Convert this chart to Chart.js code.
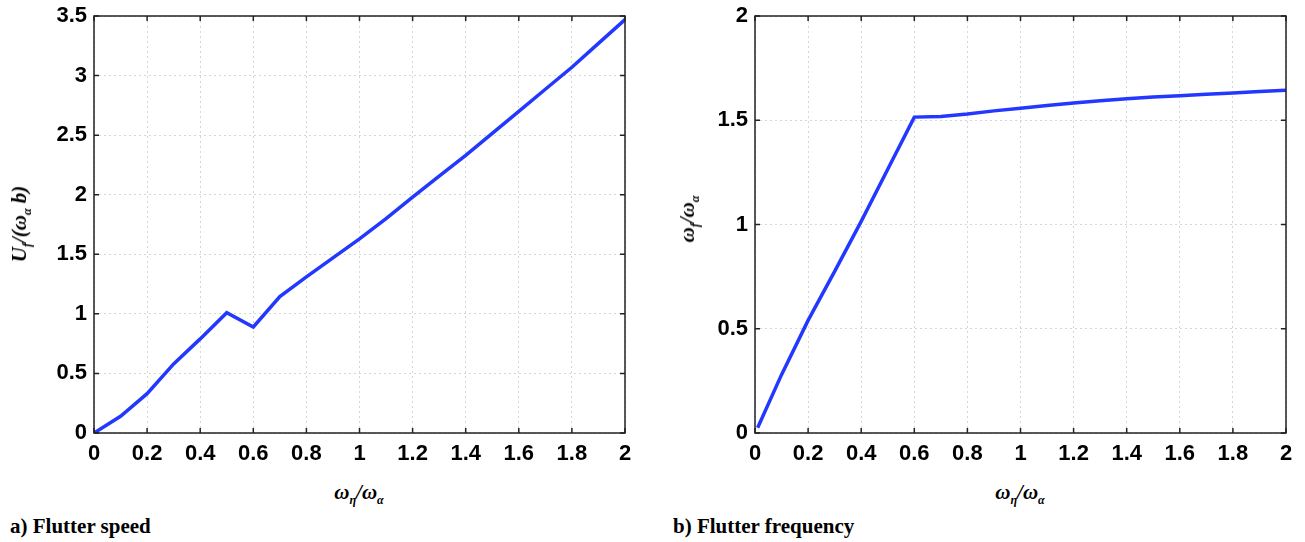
<!DOCTYPE html>
<html>
<head>
<meta charset="utf-8">
<script src="https://cdn.jsdelivr.net/npm/chart.js@4"></script>
<style>
    body { margin: 0; background: #fff; width: 1305px; height: 542px; position: relative; overflow: hidden; }
    .panel { position: absolute; top: 0; }
    .panel canvas { display: block; }
    .axis-title { position: absolute; font-family: "Liberation Serif", serif; font-style: italic; font-weight: bold; font-size: 21px; color: #000; white-space: nowrap; }
    .axis-title sub { font-size: 12px; vertical-align: -5px; }
    .ytitle { transform: translate(-50%, -50%) rotate(-90deg); }
    .xtitle { transform: translate(-50%, -50%); }
    .caption { position: absolute; font-family: "Liberation Serif", serif; font-weight: bold; font-size: 21px; color: #000; }
</style>
</head>
<body>
<div class="panel" style="left:0;width:640px;height:470px;"><canvas id="speed-chart" width="640" height="470"></canvas></div>
<div class="panel" style="left:660px;width:640px;height:470px;"><canvas id="freq-chart" width="640" height="470"></canvas></div>

<div class="axis-title ytitle" style="left:21px;top:224px;">U<sub>f</sub>/(ω<sub>α</sub> b)</div>
<div class="axis-title xtitle" style="left:359px;top:494px;">ω<sub>η</sub>/ω<sub>α</sub></div>
<div class="axis-title ytitle" style="left:689px;top:219px;">ω<sub>f</sub>/ω<sub>α</sub></div>
<div class="axis-title xtitle" style="left:1020px;top:494px;">ω<sub>η</sub>/ω<sub>α</sub></div>

<div class="caption" style="left:10px;top:514px;">a) Flutter speed</div>
<div class="caption" style="left:673px;top:514px;">b) Flutter frequency</div>

<script>
// frequency ratio (x axis)
const speedX = [0, 0.1, 0.2, 0.3, 0.4, 0.5, 0.6, 0.7, 0.8, 0.9, 1.0, 1.1, 1.2, 1.3, 1.4, 1.5, 1.6, 1.7, 1.8, 1.9, 2.0];
// nondimensional flutter speed
const speedValues = [0, 0.14, 0.33, 0.58, 0.79, 1.01, 0.89, 1.145, 1.31, 1.47, 1.63, 1.80, 1.98, 2.155, 2.33, 2.515, 2.70, 2.885, 3.07, 3.27, 3.47];

const freqX = [0.01, 0.1, 0.2, 0.3, 0.4, 0.5, 0.6, 0.7, 0.8, 0.9, 1.0, 1.1, 1.2, 1.3, 1.4, 1.5, 1.6, 1.7, 1.8, 1.9, 2.0];
// flutter frequency ratio
const freqValues = [0.025, 0.28, 0.54, 0.775, 1.015, 1.265, 1.515, 1.518, 1.53, 1.545, 1.558, 1.571, 1.583, 1.593, 1.603, 1.611, 1.618, 1.625, 1.631, 1.638, 1.644];

const speedYTicks = [0, 0.5, 1, 1.5, 2, 2.5, 3, 3.5];
const freqYTicks = [0, 0.5, 1, 1.5, 2];
const xTicks = [0, 0.2, 0.4, 0.6, 0.8, 1, 1.2, 1.4, 1.6, 1.8, 2];

const lineColor = '#2238ff';

// box around the plot with small inward tick marks on every side
const frameTicks = {
    id: 'frameTicks',
    afterDraw(chart) {
        const ctx = chart.ctx;
        const a = chart.chartArea;
        const x = chart.scales.x, y = chart.scales.y;
        ctx.save();
        ctx.strokeStyle = '#222';
        ctx.lineWidth = 1.5;
        ctx.strokeRect(a.left, a.top, a.right - a.left, a.bottom - a.top);
        ctx.beginPath();
        x.ticks.forEach(t => {
            const px = x.getPixelForValue(t.value);
            ctx.moveTo(px, a.bottom); ctx.lineTo(px, a.bottom - 5);
            ctx.moveTo(px, a.top); ctx.lineTo(px, a.top + 5);
        });
        y.ticks.forEach(t => {
            const py = y.getPixelForValue(t.value);
            ctx.moveTo(a.left, py); ctx.lineTo(a.left + 5, py);
            ctx.moveTo(a.right, py); ctx.lineTo(a.right - 5, py);
        });
        ctx.stroke();
        ctx.restore();
    }
};

function makeConfig(xs, ys, yMax, yTicks, yAxisWidth, rightPad) {
    return {
        type: 'line',
        data: {
            datasets: [{
                data: xs.map((v, i) => ({x: v, y: ys[i]})),
                borderColor: lineColor,
                borderWidth: 3.5,
                pointRadius: 0,
                fill: false,
                tension: 0
            }]
        },
        options: {
            responsive: false,
            animation: false,
            layout: {padding: {top: 16, right: rightPad, left: 0, bottom: 0}},
            plugins: {legend: {display: false}, tooltip: {enabled: false}},
            scales: {
                x: {
                    type: 'linear',
                    min: 0,
                    max: 2,
                    afterBuildTicks: (s) => { s.ticks = xTicks.map(v => ({value: v})); },
                    afterFit: (s) => { s.height = 37; s.paddingLeft = 0; s.paddingRight = 0; },
                    grid: {color: '#d6d6d6', lineWidth: 1, drawTicks: false},
                    border: {display: false, dash: [2, 3]},
                    ticks: {
                        color: '#000',
                        padding: 8,
                        maxRotation: 0,
                        autoSkip: false,
                        callback: (v) => String(v),
                        font: {family: 'Liberation Sans', size: 22, weight: 'bold'}
                    }
                },
                y: {
                    type: 'linear',
                    min: 0,
                    max: yMax,
                    afterBuildTicks: (s) => { s.ticks = yTicks.map(v => ({value: v})); },
                    afterFit: (s) => { s.width = yAxisWidth; s.paddingTop = 0; s.paddingBottom = 0; },
                    grid: {color: '#d6d6d6', lineWidth: 1, drawTicks: false},
                    border: {display: false, dash: [2, 3]},
                    ticks: {
                        color: '#000',
                        padding: 7,
                        autoSkip: false,
                        callback: (v) => String(v),
                        font: {family: 'Liberation Sans', size: 22, weight: 'bold'}
                    }
                }
            }
        },
        plugins: [frameTicks]
    };
}

new Chart(document.getElementById('speed-chart'), makeConfig(speedX, speedValues, 3.5, speedYTicks, 94, 15));
new Chart(document.getElementById('freq-chart'), makeConfig(freqX, freqValues, 2, freqYTicks, 95, 14));
</script>
</body>
</html>
